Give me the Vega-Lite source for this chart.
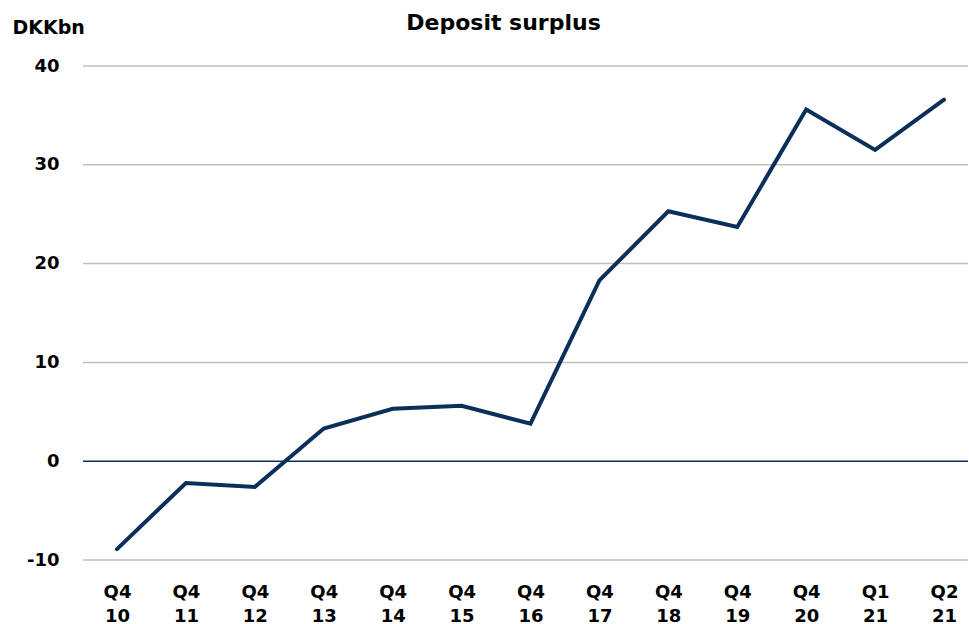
{
  "$schema": "https://vega.github.io/schema/vega-lite/v6.json",
  "autosize": "none",
  "padding": {"left": 83, "top": 66, "right": 1, "bottom": 64},
  "width": 885,
  "height": 494,
  "background": "white",
  "title": {"text": "Deposit surplus", "anchor": "middle", "frame": "group", "dx": -22, "offset": -17, "fontSize": 22, "font": "DejaVu Sans", "fontWeight": "bold", "color": "#000000"},
  "config": {"view": {"stroke": null}, "font": "DejaVu Sans"},
  "datasets": {
    "series": [
      {"q": "Q4 10", "v": -8.9},
      {"q": "Q4 11", "v": -2.2},
      {"q": "Q4 12", "v": -2.6},
      {"q": "Q4 13", "v": 3.3},
      {"q": "Q4 14", "v": 5.3},
      {"q": "Q4 15", "v": 5.6},
      {"q": "Q4 16", "v": 3.8},
      {"q": "Q4 17", "v": 18.3},
      {"q": "Q4 18", "v": 25.3},
      {"q": "Q4 19", "v": 23.7},
      {"q": "Q4 20", "v": 35.6},
      {"q": "Q1 21", "v": 31.5},
      {"q": "Q2 21", "v": 36.6}
    ],
    "grid": [{"g": -10}, {"g": 10}, {"g": 20}, {"g": 30}, {"g": 40}]
  },
  "layer": [
    {
      "data": {"name": "grid"},
      "mark": {"type": "rule", "color": "#bfbfbf", "strokeWidth": 1.5},
      "encoding": {"y": {"field": "g", "type": "quantitative"}}
    },
    {
      "data": {"values": [{"z": 0}]},
      "mark": {"type": "rule", "color": "#0b2f5b", "strokeWidth": 1.5},
      "encoding": {"y": {"field": "z", "type": "quantitative"}}
    },
    {
      "data": {"name": "series"},
      "mark": {"type": "line", "color": "#0b2f5b", "strokeWidth": 4, "strokeCap": "round", "strokeJoin": "miter"},
      "encoding": {
        "x": {"field": "q", "type": "ordinal", "sort": null,
          "scale": {"type": "point", "range": [34, 861], "padding": 0},
          "axis": {"title": null, "domain": false, "ticks": false, "grid": false, "labelAngle": 0, "labelExpr": "split(datum.value, ' ')", "labelFont": "DejaVu Sans", "labelFontSize": 18, "labelFontWeight": "bold", "labelColor": "#000000", "labelPadding": 23, "labelLineHeight": 24, "labelBaseline": "top"}},
        "y": {"field": "v", "type": "quantitative",
          "scale": {"domain": [-10, 40], "nice": false},
          "axis": {"values": [-10, 0, 10, 20, 30, 40], "labelExpr": "'' + datum.value", "title": "DKKbn", "titleAngle": 0, "titleX": -71, "titleY": -39, "titleAlign": "left", "titleBaseline": "middle", "titleFont": "DejaVu Sans", "titleFontSize": 19, "titleFontWeight": "bold", "titleColor": "#000000", "domain": false, "ticks": false, "grid": false, "labelFont": "DejaVu Sans", "labelFontSize": 18, "labelFontWeight": "bold", "labelColor": "#000000", "labelPadding": 24}}
      }
    }
  ]
}
